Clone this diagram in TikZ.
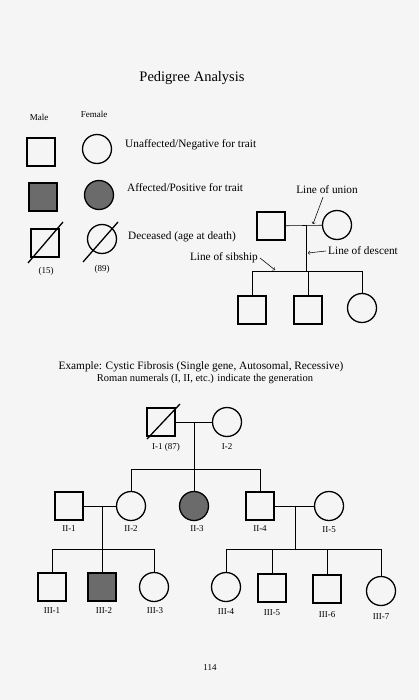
\documentclass[tikz,border=0pt]{standalone}
\usepackage{fontspec}
\setmainfont{Liberation Serif}
\usetikzlibrary{positioning}

\begin{document}
\begin{tikzpicture}[x=1pt, y=-1pt,
    male/.style={rectangle, draw, line width=1.3pt, minimum size=28pt, inner sep=0pt},
    female/.style={circle, draw, line width=1.3pt, minimum size=29pt, inner sep=0pt},
    affected/.style={fill=black!58},
    link/.style={line width=0.55pt},
    deadline/.style={line width=1.3pt},
    pointer/.style={line width=0.55pt, ->},
    lbl/.style={font=\fontsize{9}{10}\selectfont, inner sep=1pt},
    txt/.style={font=\fontsize{11.3}{13}\selectfont, inner sep=0pt}]
    \fill[black!4] (0,0) rectangle (419,700);
    \useasboundingbox (0,0) rectangle (419,700);

    % Titel
    \node[font=\fontsize{14.5}{17}\selectfont] (title) at (192,78) {Pedigree Analysis};

    % Legende
    \node[lbl] (male) at (39,117) {Male};
    \node[lbl] (female) at (94,114) {Female};

    \node[male] (sqA) at (41,152) {};
    \node[female] (ciA) at (97,149) {};
    \node[txt, anchor=west] (tA) at (125,145) {Unaffected/Negative for trait};

    \node[male, affected] (sqB) at (43,197) {};
    \node[female, affected] (ciB) at (99,195) {};
    \node[txt, anchor=west] (tB) at (127,188) {Affected/Positive for trait};

    \node[male] (sqC) at (45,243) {};
    \node[female] (ciC) at (102,239) {};
    \node[txt, anchor=west] (tC) at (128,237) {Deceased (age at death)};
    \draw[deadline] ([shift={(-17,20)}]sqC.center) -- ([shift={(18,-21)}]sqC.center);
    \draw[deadline] ([shift={(-19,23)}]ciC.center) -- ([shift={(16,-17)}]ciC.center);
    \node[lbl] (ageC) at (46,271) {(15)};
    \node[lbl] (ageD) at (102,269) {(89)};

    % Linien-Legende
    \node[male] (LM) at (271,226) {};
    \node[female] (LF) at (337,225) {};
    \coordinate (uL) at (306,225);
    \coordinate (sibL) at (306,271);
    \node[male] (LC1) at (252,310) {};
    \node[male] (LC2) at (308,310) {};
    \node[female] (LC3) at (362,308) {};
    \draw[link] (LM) -- (LF);
    \draw[link] (uL) -- (sibL);
    \draw[link] (LC1.north) -- (LC1 |- sibL) -- (LC3 |- sibL) -- (LC3.north);
    \draw[link] (LC2.north) -- (LC2 |- sibL);

    \node[txt] (tU) at (327,190) {Line of union};
    \node[txt, anchor=west] (tD) at (328,251) {Line of descent};
    \node[txt, anchor=east] (tS) at (258,258) {Line of sibship};
    \coordinate (aU) at (313,224);
    \coordinate (aD) at (308,253);
    \coordinate (aS) at (275,270);
    \draw[pointer] ([shift={(-4,3)}]tU.south) -- (aU);
    \draw[pointer] ([xshift=-2pt]tD.west) -- (aD);
    \draw[pointer] ([xshift=2pt]tS.east) -- (aS);

    % Beispiel
    \node[font=\fontsize{11.3}{13}\selectfont] (ex) at (201,367)
        {Example: Cystic Fibrosis (Single gene, Autosomal, Recessive)};
    \node[font=\fontsize{10.5}{12}\selectfont] (roman) at (205,379)
        {Roman numerals (I, II, etc.) indicate the generation};

    % Generation I
    \node[male] (I1) at (161,422) {};
    \node[female] (I2) at (227,422) {};
    \draw[deadline] ([shift={(-14,17)}]I1.center) -- ([shift={(19,-18)}]I1.center);
    \coordinate (uI) at (194,422);
    \draw[link] (I1) -- (I2);

    % Generation II
    \node[male] (II1) at (69,506) {};
    \node[female] (II2) at (131,506) {};
    \node[female, affected] (II3) at (194,506) {};
    \node[male] (II4) at (260,506) {};
    \node[female] (II5) at (329,506) {};
    \coordinate (sibII) at (194,469);
    \draw[link] (uI) -- (II3.north);
    \draw[link] (II2.north) -- (II2 |- sibII) -- (II4 |- sibII) -- (II4.north);
    \draw[link] (II1) -- (II2);
    \draw[link] (II4) -- (II5);
    \coordinate (uIIa) at (102,506);
    \coordinate (uIIb) at (295,506);
    \coordinate (sibIIIa) at (102,549);
    \coordinate (sibIIIb) at (295,549);

    % Generation III
    \node[male] (III1) at (52,587) {};
    \node[male, affected] (III2) at (102,587) {};
    \node[female] (III3) at (154,587) {};
    \node[female] (III4) at (226,587) {};
    \node[male] (III5) at (272,588) {};
    \node[male] (III6) at (327,589) {};
    \node[female] (III7) at (381,591) {};
    \draw[link] (uIIa) -- (III2.north);
    \draw[link] (III1.north) -- (III1 |- sibIIIa) -- (III3 |- sibIIIa) -- (III3.north);
    \draw[link] (uIIb) -- (sibIIIb);
    \draw[link] (III4.north) -- (III4 |- sibIIIb) -- (III7 |- sibIIIb) -- (III7.north);
    \draw[link] (III5.north) -- (III5 |- sibIIIb);
    \draw[link] (III6.north) -- (III6 |- sibIIIb);

    % Beschriftungen
    \node[lbl] (nI1) at (166,447) {I-1 (87)};
    \node[lbl] (nI2) at (227,447) {I-2};
    \node[lbl] (nII1) at (69,529) {II-1};
    \node[lbl] (nII2) at (131,529) {II-2};
    \node[lbl] (nII3) at (197,529) {II-3};
    \node[lbl] (nII4) at (260,529) {II-4};
    \node[lbl] (nII5) at (329,530) {II-5};
    \node[lbl] (nIII1) at (52,611) {III-1};
    \node[lbl] (nIII2) at (104,611) {III-2};
    \node[lbl] (nIII3) at (155,611) {III-3};
    \node[lbl] (nIII4) at (226,612) {III-4};
    \node[lbl] (nIII5) at (272,613) {III-5};
    \node[lbl] (nIII6) at (327,615) {III-6};
    \node[lbl] (nIII7) at (381,617) {III-7};

    \node[lbl] (page) at (210,668) {114};
  \end{tikzpicture}
\end{document}
